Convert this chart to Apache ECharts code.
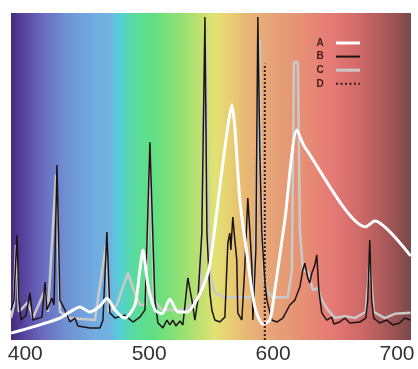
<!DOCTYPE html>
<html>
<head>
<meta charset="utf-8">
<script src="https://cdn.jsdelivr.net/npm/echarts@6/dist/echarts.min.js"></script>
<style>
html,body{margin:0;padding:0;background:#ffffff;}
#chart{width:418px;height:369px;}
</style>
</head>
<body>
<div id="chart"></div>
<script>
// Wavelength tick labels (nm)
var tickLabels = [400, 500, 600, 700];
var xMin = 388.5, xMax = 711.3;
var legendNames = ['A', 'B', 'C', 'D'];

// Series A (white)
var aNm  = [388.5, 406.2, 428.0, 436.1, 444.1, 452.2, 460.3, 465.9, 472.4, 480.4, 488.5, 492.5, 495.0, 499.0, 504.6, 510.3, 516.7, 523.2, 530.4, 541.3, 548.6, 557.0, 563.4, 566.7, 569.1, 573.2, 578.8, 585.3, 591.7, 597.4, 601.4, 609.5, 619.2, 625.6, 674.8, 682.0, 711.0];
var aVal = [2.1, 4.0, 6.7, 8.6, 10.1, 8.6, 10.4, 12.8, 9.2, 6.7, 10.7, 21.4, 27.5, 16.8, 9.2, 8.0, 12.5, 8.6, 8.6, 14.4, 22.3, 46.8, 65.1, 71.9, 65.1, 42.8, 26.6, 10.1, 4.9, 6.1, 15.3, 36.7, 64.2, 59.0, 34.6, 36.4, 25.7];

// Series B (black)
var bNm  = [388.5, 390.9, 393.3, 394.9, 396.6, 400.6, 403.8, 406.2, 413.5, 415.9, 417.5, 421.6, 423.2, 425.6, 428.0, 432.0, 436.1, 440.1, 442.5, 452.2, 460.3, 462.7, 465.9, 468.3, 472.4, 480.4, 486.9, 492.5, 496.6, 500.6, 504.6, 507.1, 511.1, 514.3, 516.7, 519.1, 521.6, 524.8, 527.2, 531.2, 534.5, 536.9, 539.3, 542.5, 545.0, 546.6, 549.0, 550.6, 553.0, 557.0, 561.1, 563.5, 565.1, 565.9, 567.5, 569.1, 570.7, 571.5, 574.8, 577.2, 579.6, 581.2, 582.9, 583.7, 585.3, 586.1, 587.7, 589.3, 590.9, 593.3, 595.0, 599.0, 603.0, 607.9, 613.5, 617.6, 621.6, 624.0, 625.6, 628.0, 629.6, 631.3, 633.7, 635.3, 636.9, 639.3, 643.3, 647.4, 649.0, 653.8, 657.9, 661.9, 670.0, 674.8, 676.4, 678.0, 679.6, 681.2, 686.1, 691.7, 696.6, 702.2, 706.2, 711.0];
var bVal = [9.2, 12.2, 32.1, 12.2, 6.1, 7.6, 14.4, 6.1, 7.0, 17.7, 9.2, 12.8, 10.7, 53.5, 12.2, 9.2, 5.5, 6.7, 4.3, 3.7, 3.7, 6.1, 33.0, 8.3, 6.7, 7.6, 5.5, 7.0, 9.2, 60.5, 12.2, 5.2, 3.7, 6.1, 4.6, 6.1, 4.3, 5.8, 4.6, 19.0, 12.2, 6.1, 12.2, 32.7, 98.8, 32.7, 14.4, 9.2, 6.1, 5.5, 7.0, 29.7, 32.7, 27.5, 37.6, 30.6, 24.5, 8.3, 6.1, 22.3, 43.4, 33.6, 22.3, 6.1, 5.5, 27.5, 98.8, 58.1, 32.7, 18.3, 12.2, 6.1, 5.5, 6.7, 10.7, 12.2, 16.2, 21.4, 23.5, 19.0, 17.4, 20.5, 22.9, 26.0, 15.3, 8.3, 6.1, 7.0, 4.9, 5.5, 6.7, 5.2, 5.5, 6.7, 12.2, 30.6, 12.2, 6.7, 5.2, 6.1, 4.6, 5.2, 6.7, 6.1];

// Series C (light grey)
var cNm  = [388.5, 390.9, 392.5, 394.9, 402.2, 406.2, 415.9, 418.3, 424.8, 428.0, 436.1, 456.2, 465.1, 467.5, 474.0, 478.0, 482.9, 486.9, 492.5, 497.4, 500.6, 503.8, 510.3, 528.8, 536.9, 541.5, 543.5, 545.5, 547.0, 549.0, 553.0, 561.1, 581.2, 584.5, 586.1, 587.7, 589.0, 590.5, 592.5, 595.0, 599.0, 611.9, 615.2, 616.8, 620.0, 621.6, 624.0, 628.0, 632.1, 636.1, 639.3, 644.2, 649.8, 657.9, 666.0, 674.8, 678.0, 681.2, 690.1, 698.2, 711.0];
var cVal = [6.7, 10.7, 29.1, 8.6, 11.6, 6.7, 15.3, 8.6, 50.5, 8.6, 6.7, 6.1, 29.1, 8.6, 10.7, 15.3, 20.5, 15.9, 10.7, 10.7, 57.2, 12.2, 9.2, 9.2, 12.2, 14.0, 60.0, 90.0, 50.0, 20.0, 14.4, 13.1, 13.1, 13.5, 14.0, 60.0, 92.0, 45.0, 18.0, 15.3, 13.1, 13.1, 21.4, 85.0, 85.0, 33.6, 21.4, 20.8, 15.3, 15.9, 12.2, 9.2, 6.7, 7.3, 6.7, 8.6, 24.5, 8.6, 6.7, 8.0, 8.3];

// Series D (dotted vertical marker)
var dNm  = [593.3, 593.3];
var dVal = [0, 84.5];

var lineColors = {A: '#ffffff', B: '#1c1414', C: '#c9c9c9', D: '#3a1a12'};
var lineWidths = {A: 3, B: 2, C: 3, D: 2};

function pairs(xs, ys) {
  var out = [];
  for (var i = 0; i < xs.length; i++) out.push([xs[i], ys[i]]);
  return out;
}

// Legend drawn as graphic text + line samples (text on the left, sample on the right)
var legendGraphics = [];
for (var i = 0; i < legendNames.length; i++) {
  var nm = legendNames[i];
  var yy = 43 + i * 13.6;
  legendGraphics.push({
    type: 'text', left: null, x: 320, y: yy, z: 100,
    style: {text: nm, x: 0, y: 0, textAlign: 'center', textVerticalAlign: 'middle',
            font: 'bold 10px "Liberation Sans"', fill: '#4a1616'}
  });
  legendGraphics.push({
    type: 'line', z: 100,
    shape: {x1: 336, y1: yy, x2: 360, y2: yy},
    style: {stroke: lineColors[nm], lineWidth: lineWidths[nm], lineDash: nm === 'D' ? [2, 2.5] : null}
  });
}

var chart = echarts.init(document.getElementById('chart'), null, {renderer: 'canvas'});
chart.setOption({
  animation: false,
  grid: {
    left: 11, right: 7, top: 13, bottom: 29,
    show: true, borderWidth: 0,
    backgroundColor: {
      type: 'linear', x: 0, y: 0, x2: 1, y2: 0,
      colorStops: [
        {offset: 0.00, color: '#472a80'},
        {offset: 0.04, color: '#5a4ba5'},
        {offset: 0.08, color: '#6a6cbf'},
        {offset: 0.14, color: '#6f92d4'},
        {offset: 0.21, color: '#72ace0'},
        {offset: 0.25, color: '#6fb3df'},
        {offset: 0.27, color: '#52cfd8'},
        {offset: 0.31, color: '#5adc9a'},
        {offset: 0.36, color: '#62df82'},
        {offset: 0.42, color: '#8fe074'},
        {offset: 0.48, color: '#c5e070'},
        {offset: 0.51, color: '#e2e274'},
        {offset: 0.55, color: '#e8cd72'},
        {offset: 0.59, color: '#e8b774'},
        {offset: 0.64, color: '#e6a77a'},
        {offset: 0.72, color: '#e69273'},
        {offset: 0.80, color: '#e67a76'},
        {offset: 0.87, color: '#d06a68'},
        {offset: 0.94, color: '#a85858'},
        {offset: 1.00, color: '#7a4848'}
      ]
    }
  },
  graphic: legendGraphics,
  xAxis: {
    type: 'value', min: xMin, max: xMax,
    axisLine: {show: false}, axisTick: {show: false}, splitLine: {show: false},
    axisLabel: {
      customValues: tickLabels,
      fontSize: 21, color: '#333333', fontFamily: 'Liberation Sans', margin: 4
    }
  },
  yAxis: {type: 'value', min: 0, max: 100, show: false},
  series: [
    {name: 'C', type: 'line', data: pairs(cNm, cVal), symbol: 'none', z: 2,
     lineStyle: {color: lineColors.C, width: 2.5}},
    {name: 'B', type: 'line', data: pairs(bNm, bVal), symbol: 'none', z: 3,
     lineStyle: {color: lineColors.B, width: 1.5}},
    {name: 'A', type: 'line', data: pairs(aNm, aVal), symbol: 'none', smooth: 0.25, z: 4,
     lineStyle: {color: lineColors.A, width: 3}},
    {name: 'D', type: 'line', data: pairs(dNm, dVal), symbol: 'none', z: 5,
     lineStyle: {color: lineColors.D, width: 2, type: [2, 2]}}
  ]
});
</script>
</body>
</html>
